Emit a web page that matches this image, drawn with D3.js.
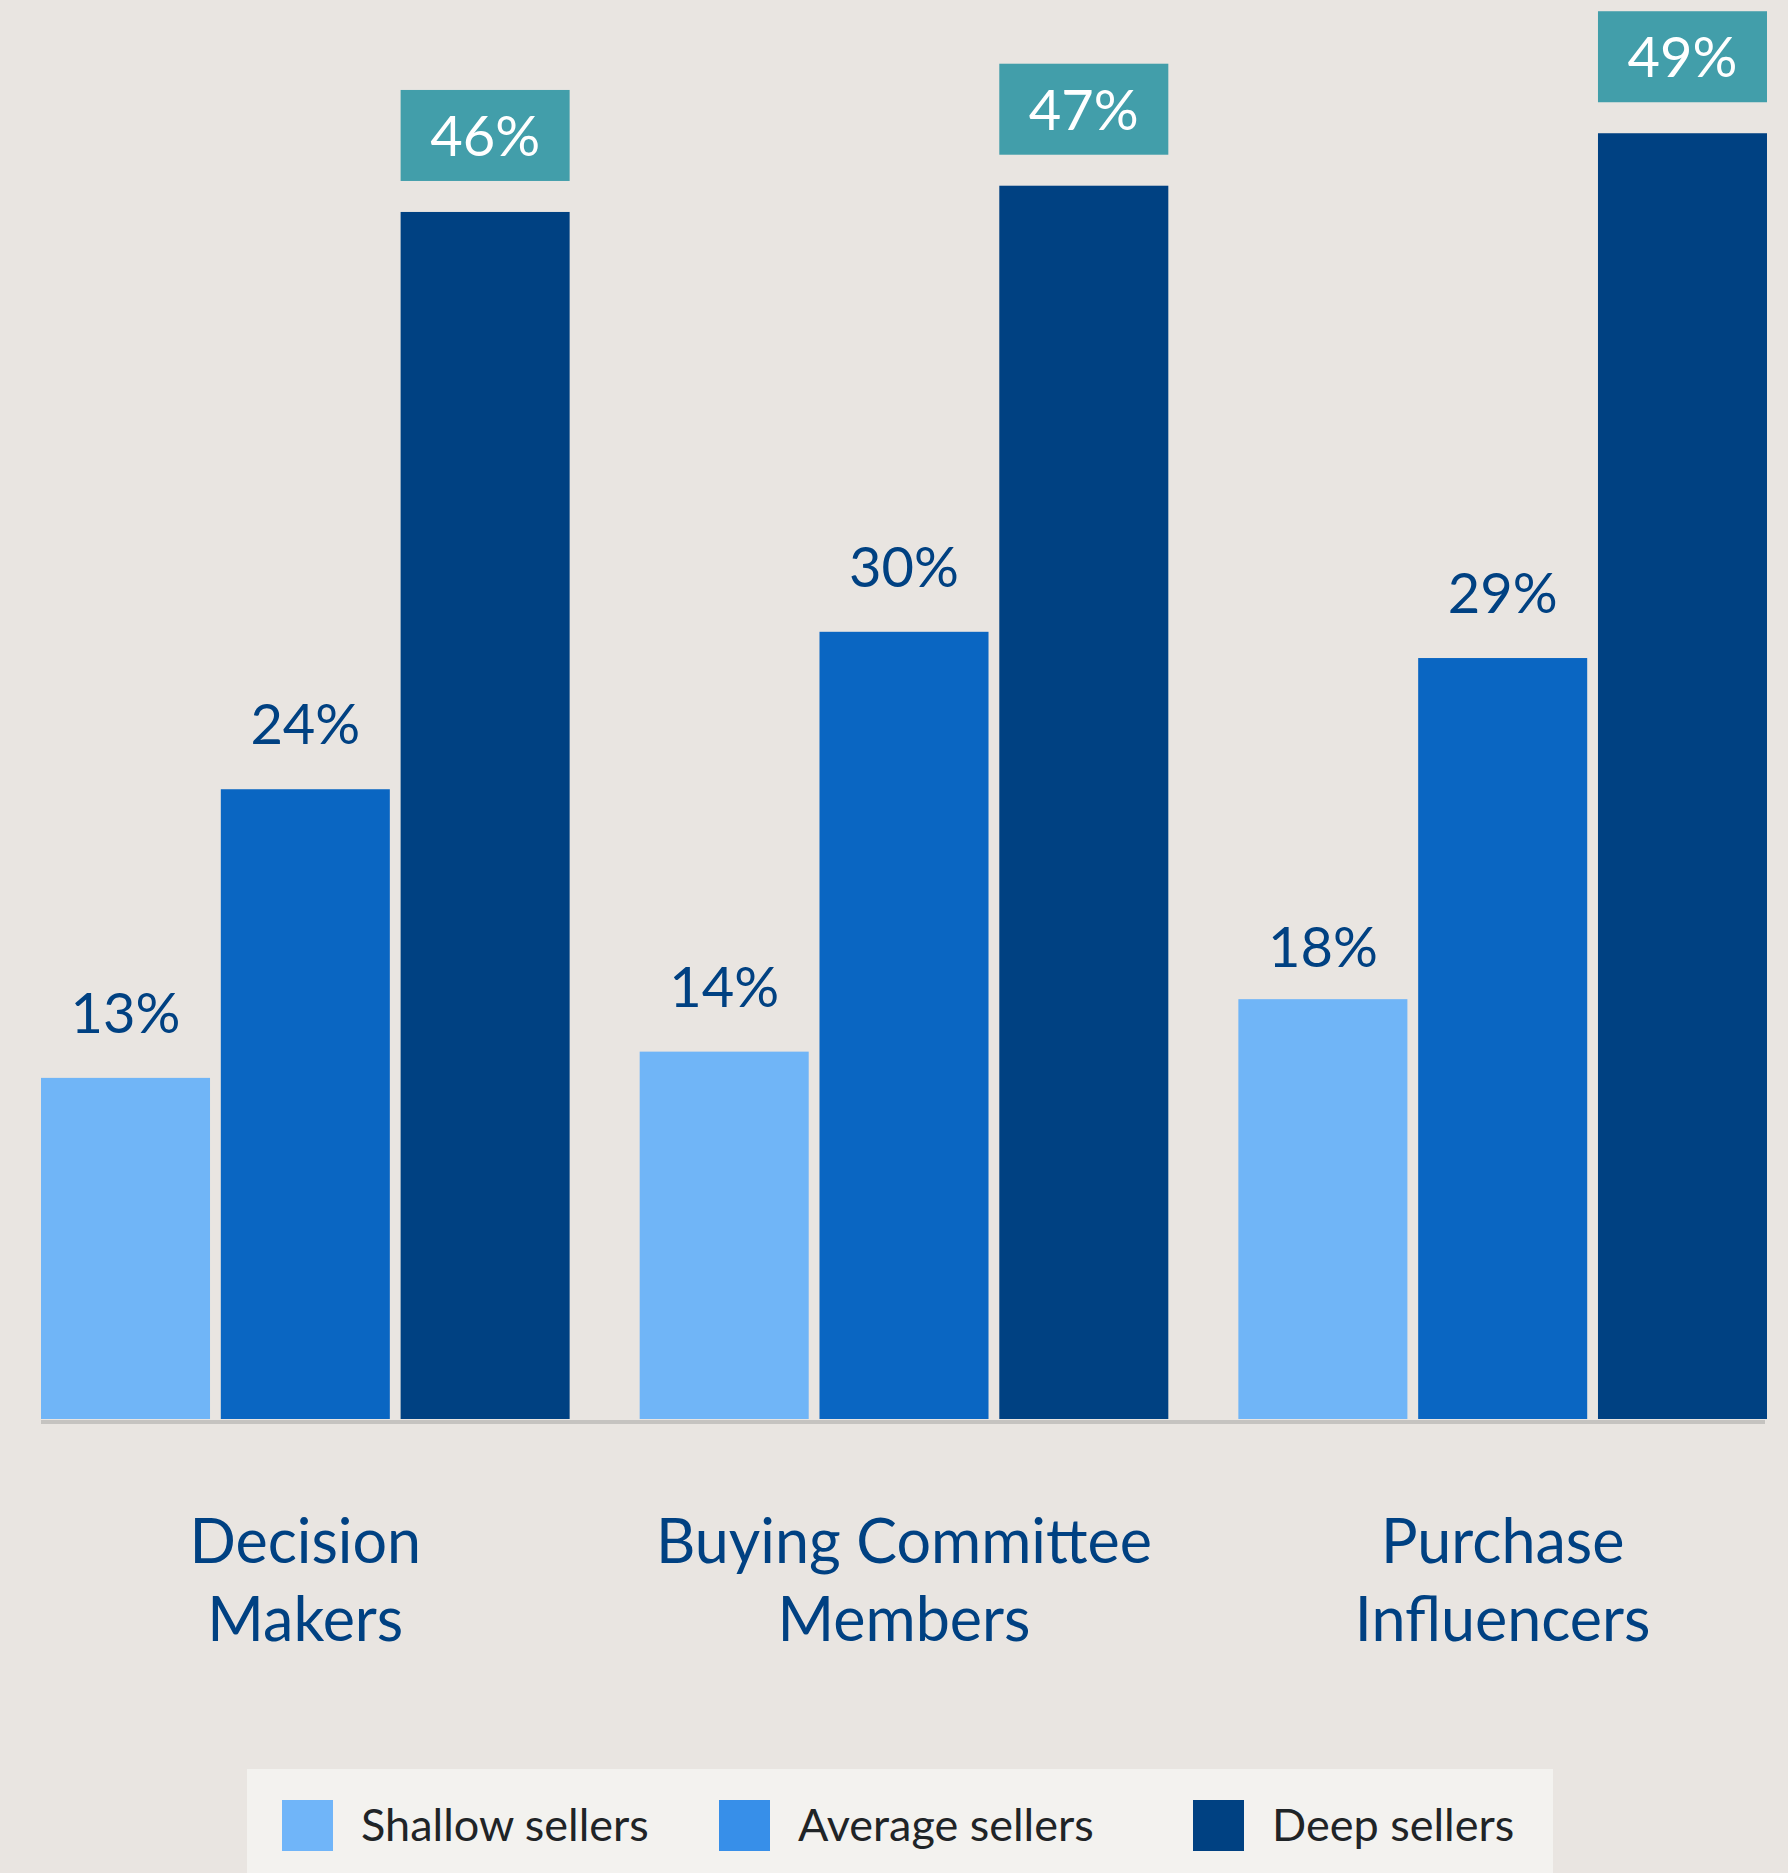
<!DOCTYPE html>
<html>
<head>
<meta charset="utf-8">
<script src="https://cdn.jsdelivr.net/npm/d3@7.9.0/dist/d3.min.js"></script>
<style>
  html, body { margin: 0; padding: 0; background: #e9e5e1; }
  svg { display: block; font-family: Lato, "Noto Sans", sans-serif; }
</style>
</head>
<body>
<div id="chart"></div>
<script>
// data
const categories = ["Decision Makers", "Buying Committee Members", "Purchase Influencers"];
const categoryLines = [["Decision", "Makers"], ["Buying Committee", "Members"], ["Purchase", "Influencers"]];
const seriesNames = ["Shallow sellers", "Average sellers", "Deep sellers"];
// bar heights as drawn in the picture (the 18% bar is drawn at about 16)
const shallowValues = [13, 14, 16];
const averageValues = [24, 30, 29];
const deepValues = [46, 47, 49];
// printed labels
const shallowLabels = ["13%", "14%", "18%"];
const averageLabels = ["24%", "30%", "29%"];
const deepLabels = ["46%", "47%", "49%"];

const barColors = ["#70b5f7", "#0a66c2", "#004182"];
const legendColors = ["#70b5f9", "#378fe9", "#004182"];

const width = 1788;
const height = 1873;
const baseline = 1419;

const rows = categories.map((c, i) => ({
  category: c,
  lines: categoryLines[i],
  values: [
    [shallowValues[i], shallowLabels[i]],
    [averageValues[i], averageLabels[i]],
    [deepValues[i], deepLabels[i]],
  ].map(([v, label], j) => ({
    series: seriesNames[j],
    value: v,
    label,
    idx: j,
  })),
}));

const svg = d3
  .select("#chart")
  .append("svg")
  .attr("width", width)
  .attr("height", height);

svg.append("rect").attr("width", width).attr("height", height).attr("fill", "#e9e5e1");

// scales
const x0 = d3.scaleBand().domain(categories).range([41, 1767]).paddingInner(0.117).paddingOuter(0);
const x1 = d3.scaleBand().domain(seriesNames).range([0, x0.bandwidth()]).paddingInner(0.06).paddingOuter(0);
const y = d3.scaleLinear().domain([0, 50]).range([baseline, baseline - 50 * 26.24]);
const color = d3.scaleOrdinal().domain(seriesNames).range(barColors);

// baseline rule
svg
  .append("line")
  .attr("x1", x0.range()[0])
  .attr("x2", x0.range()[1] - 2)
  .attr("y1", baseline + 3)
  .attr("y2", baseline + 3)
  .attr("stroke", "#c5c3c0")
  .attr("stroke-width", 4);

const groups = svg
  .selectAll("g.group")
  .data(rows)
  .join("g")
  .attr("class", "group")
  .attr("transform", (d) => `translate(${x0(d.category)},0)`);

groups
  .selectAll("rect.bar")
  .data((d) => d.values)
  .join("rect")
  .attr("class", "bar")
  .attr("x", (d) => x1(d.series))
  .attr("y", (d) => y(d.value))
  .attr("width", x1.bandwidth())
  .attr("height", (d) => baseline - y(d.value))
  .attr("fill", (d) => color(d.series));

// plain value labels (shallow + average)
groups
  .selectAll("text.value")
  .data((d) => d.values.filter((v) => v.idx < 2))
  .join("text")
  .attr("class", "value")
  .attr("x", (d) => x1(d.series) + x1.bandwidth() / 2)
  .attr("y", (d) => y(d.value) - (d.label === "18%" ? 32 : 45))
  .attr("text-anchor", "middle")
  .attr("font-size", 56)
  .attr("fill", "#004182")
  .text((d) => d.label);

// highlighted label for deep sellers
const boxH = 91;
const deepLabel = groups
  .selectAll("g.deep")
  .data((d) => d.values.filter((v) => v.idx === 2))
  .join("g")
  .attr("class", "deep");

deepLabel
  .append("rect")
  .attr("x", (d) => x1(d.series))
  .attr("y", (d) => y(d.value) - 31 - boxH)
  .attr("width", x1.bandwidth())
  .attr("height", boxH)
  .attr("fill", "#429eaa");

deepLabel
  .append("text")
  .attr("x", (d) => x1(d.series) + x1.bandwidth() / 2)
  .attr("y", (d) => y(d.value) - 31 - boxH + 66)
  .attr("text-anchor", "middle")
  .attr("font-size", 56)
  .attr("fill", "#ffffff")
  .text((d) => d.label);

// category labels
groups
  .append("text")
  .attr("text-anchor", "middle")
  .attr("font-size", 61)
  .attr("fill", "#004182")
  .selectAll("tspan")
  .data((d) => d.lines)
  .join("tspan")
  .attr("x", x0.bandwidth() / 2)
  .attr("y", (d, i) => 1563 + i * 78)
  .text((d) => d);

// legend
const legend = svg.append("g").attr("class", "legend");
legend
  .append("rect")
  .attr("x", 247)
  .attr("y", 1769)
  .attr("width", 1306)
  .attr("height", 110)
  .attr("fill", "#f3f2ef");

const legendX = [282, 719, 1193];
const items = legend
  .selectAll("g.item")
  .data(seriesNames)
  .join("g")
  .attr("class", "item")
  .attr("transform", (d, i) => `translate(${legendX[i]},1800)`);

items
  .append("rect")
  .attr("width", 51)
  .attr("height", 51)
  .attr("fill", (d, i) => legendColors[i]);

items
  .append("text")
  .attr("x", 79)
  .attr("y", 41)
  .attr("font-size", 45)
  .attr("fill", "#1f2427")
  .text((d) => d);
</script>
</body>
</html>
